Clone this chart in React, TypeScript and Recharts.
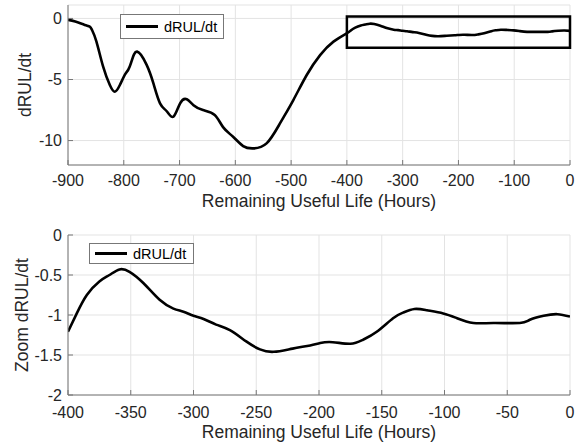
import React from "react";
import { LineChart, Line, XAxis, YAxis, CartesianGrid, ReferenceArea, Legend, Label } from "recharts";

const hours = [
  -900, -887, -870, -861, -857, -849, -837, -825, -816, -807, -798, -792, -786, -776, -759, -747, -735, -723,
  -711, -699, -687, -675, -658, -637, -622, -604, -586, -568, -544, -520, -496, -472, -448, -424,
  -400, -393, -385, -375, -367, -359, -351, -340, -327, -316, -308, -300, -292, -282, -271, -258, -247, -236,
  -221, -207, -199, -189, -175, -165, -154, -141, -133, -124, -114, -101, -90, -77, -61, -40, -32, -21, -10, 0,
];
const dRUL = [
  -0.12, -0.26, -0.53, -0.67, -0.94, -1.9, -3.95, -5.45, -6.0, -5.45, -4.6, -4.2, -3.5, -2.72, -3.8, -5.3, -6.95, -7.6,
  -8.05, -6.95, -6.62, -7.1, -7.5, -7.9, -8.9, -9.69, -10.45, -10.64, -10.23, -8.6, -6.68, -4.63, -3.0, -1.9,
  -1.21, -0.98, -0.75, -0.58, -0.5, -0.43, -0.46, -0.6, -0.81, -0.92, -0.96, -1.01, -1.05, -1.12, -1.19, -1.33, -1.43, -1.46,
  -1.42, -1.38, -1.35, -1.34, -1.36, -1.31, -1.21, -1.04, -0.97, -0.925, -0.94, -0.98, -1.04, -1.1, -1.1, -1.1, -1.06, -1.01, -0.99, -1.02,
];

const xTicksTop = [-900, -800, -700, -600, -500, -400, -300, -200, -100, 0];
const yTicksTop = [-10, -5, 0];
const xTicksZoom = [-400, -350, -300, -250, -200, -150, -100, -50, 0];
const yTicksZoom = [-2, -1.5, -1, -0.5, 0];
const zoomBox = { x1: -400, x2: 0, y1: -2.4, y2: 0.15 };
const seriesName = "dRUL/dt";
const xTitle = "Remaining Useful Life (Hours)";

const data = hours.map((h, i) => ({ h, v: dRUL[i] }));
const zoomData = data.filter((d) => d.h >= -400);

const FONT = "'Liberation Sans', Arial, Helvetica, sans-serif";
const TXT = "#262626";
const AX = "#777777";
const tickStyle = { fill: TXT, fontSize: 16, fontFamily: FONT };

const LegendBox = ({ w, h }: { w: number; h: number }) => (
  <div
    style={{
      width: w,
      height: h,
      boxSizing: "border-box",
      border: "1px solid #777",
      background: "#fff",
      display: "flex",
      alignItems: "center",
      fontFamily: FONT,
      fontSize: 14.5,
      color: "#000",
    }}
  >
    <div style={{ width: 32, height: 0, borderTop: "3px solid #000", marginLeft: 5, marginRight: 6 }} />
    <span>{seriesName}</span>
  </div>
);

function Panel(props: {
  rows: { h: number; v: number }[];
  height: number;
  marginTop: number;
  xHeight: number;
  xDomain: [number, number];
  yDomain: [number, number];
  xTicks: number[];
  yTicks: number[];
  xTickMargin: number;
  yTitle: string;
  yTitleX: number;
  xTitleBaseline: number;
  legendPos: { left: number; top: number; w: number; h: number };
  box?: boolean;
}) {
  const W = 579;
  const plotTop = props.marginTop;
  const plotBottom = props.height - props.xHeight;
  const yMid = (plotTop + plotBottom) / 2;
  return (
    <LineChart width={W} height={props.height} data={props.rows} margin={{ top: props.marginTop, right: 9, bottom: 0, left: 0 }}>
      <CartesianGrid stroke="#e3e3e3" strokeWidth={1} />
      <XAxis
        dataKey="h"
        type="number"
        domain={props.xDomain}
        ticks={props.xTicks}
        allowDataOverflow
        height={props.xHeight}
        tickSize={-5}
        tickMargin={props.xTickMargin}
        tick={tickStyle}
        tickLine={{ stroke: AX }}
        axisLine={{ stroke: AX }}
      >
        <Label
          content={() => (
            <text x={(68 + 570) / 2} y={props.xTitleBaseline} textAnchor="middle" fill={TXT} fontSize={17.5} fontFamily={FONT}>
              {xTitle}
            </text>
          )}
        />
      </XAxis>
      <XAxis xAxisId="top" orientation="top" type="number" dataKey="h" domain={props.xDomain} ticks={props.xTicks} height={0} tick={false} tickSize={-5} tickLine={{ stroke: AX }} axisLine={{ stroke: AX }} />
      <YAxis
        type="number"
        domain={props.yDomain}
        ticks={props.yTicks}
        allowDataOverflow
        width={68}
        tickSize={-5}
        tickMargin={11}
        tick={tickStyle}
        tickLine={{ stroke: AX }}
        axisLine={{ stroke: AX }}
      >
        <Label
          content={() => (
            <text
              x={props.yTitleX}
              y={yMid}
              transform={`rotate(-90 ${props.yTitleX} ${yMid})`}
              textAnchor="middle"
              dominantBaseline="central"
              fill={TXT}
              fontSize={17.5}
              fontFamily={FONT}
            >
              {props.yTitle}
            </text>
          )}
        />
      </YAxis>
      <YAxis yAxisId="right" orientation="right" type="number" domain={props.yDomain} ticks={props.yTicks} width={0} tick={false} tickSize={-5} tickLine={{ stroke: AX }} axisLine={{ stroke: AX }} />
      <Line dataKey="v" name={seriesName} type="natural" stroke="#000" strokeWidth={2.6} dot={false} isAnimationActive={false} />
      {props.box && (
        <ReferenceArea x1={zoomBox.x1} x2={zoomBox.x2} y1={zoomBox.y1} y2={zoomBox.y2} fill="none" stroke="#000" strokeWidth={2.5} ifOverflow="visible" />
      )}
      <Legend
        layout="vertical"
        align="center"
        verticalAlign="middle"
        content={() => <LegendBox w={props.legendPos.w} h={props.legendPos.h} />}
        wrapperStyle={{ position: "absolute", left: props.legendPos.left, top: props.legendPos.top, width: props.legendPos.w, height: props.legendPos.h }}
      />
    </LineChart>
  );
}

export default function App() {
  return (
    <div style={{ position: "absolute", left: 0, top: 0, width: 579, height: 446, background: "#fff" }}>
      <div style={{ position: "absolute", left: 0, top: 0 }}>
        <Panel
          rows={data}
          height={220}
          marginTop={5}
          xHeight={55}
          xDomain={[-900, 0]}
          yDomain={[-12, 1.1]}
          xTicks={xTicksTop}
          yTicks={yTicksTop}
          xTickMargin={15}
          yTitle="dRUL/dt"
          yTitleX={25}
          xTitleBaseline={207}
          legendPos={{ left: 120, top: 14, w: 104, h: 25 }}
          box
        />
      </div>
      <div style={{ position: "absolute", left: 0, top: 220 }}>
        <Panel
          rows={zoomData}
          height={226}
          marginTop={15}
          xHeight={51}
          xDomain={[-400, 0]}
          yDomain={[-2, 0]}
          xTicks={xTicksZoom}
          yTicks={yTicksZoom}
          xTickMargin={17}
          yTitle="Zoom dRUL/dt"
          yTitleX={22}
          xTitleBaseline={218}
          legendPos={{ left: 89, top: 23, w: 105, h: 21 }}
        />
      </div>
    </div>
  );
}
